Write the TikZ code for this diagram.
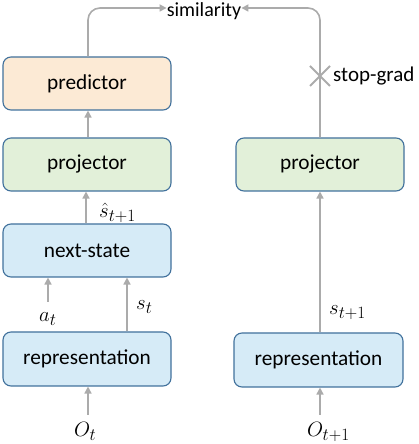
\documentclass[tikz,border=0pt]{standalone}
\usepackage{fontspec}
\setmainfont{Carlito}
\DeclareMathSizes{22}{22}{16}{12}
\usetikzlibrary{arrows.meta}
\definecolor{bordc}{HTML}{41719C}
\definecolor{orangef}{HTML}{FCEAD5}
\definecolor{greenf}{HTML}{E2F0D9}
\definecolor{bluef}{HTML}{D6EBF7}
\definecolor{arrc}{HTML}{ABABAB}
\tikzset{
  blk/.style={draw=bordc, line width=1.1pt, rounded corners=8pt, minimum width=168pt, minimum height=53pt, inner sep=0pt, font=\fontsize{21.3}{24}\selectfont},
  conn/.style={draw=arrc, line width=1.6pt, -{Triangle[length=7pt,width=7pt]}},
  lbl/.style={inner sep=0pt, font=\fontsize{21}{24}\selectfont},
  mlbl/.style={inner sep=0pt, anchor=base west, font=\fontsize{22}{24}\selectfont},
}
\begin{document}
\begin{tikzpicture}[x=1pt,y=1pt]
\useasboundingbox (0,0) rectangle (418,444);
\node[blk, fill=orangef] (pred) at (87,360.5) {predictor};
\node[blk, fill=greenf] (projL) at (87,279.5) {projector};
\node[blk, fill=bluef] (next) at (87,193.5) {next-state};
\node[blk, fill=bluef, minimum height=54pt] (repL) at (87,85) {representation};
\node[blk, fill=greenf] (projR) at (320,279.5) {projector};
\node[blk, fill=bluef, minimum height=54pt, minimum width=169pt] (repR) at (318.5,84) {representation};
\node[lbl, font=\fontsize{20}{22}\selectfont] (sim) at (204,433) {similarity};
\node[mlbl] (ot) at (74,7) {$O_t$};
\node[mlbl] (ot1) at (307,7) {$O_{t+1}$};
\node[mlbl] (at) at (39,122) {$a_t$};
\node[mlbl] (st) at (136,134) {$s_t$};
\node[mlbl] (sh) at (99,226) {$\hat{s}_{t+1}$};
\node[mlbl] (st1) at (329,129) {$s_{t+1}$};
\node[lbl, anchor=west] (sg) at (333,368) {stop-grad};
\coordinate (atS) at (48,142);
\coordinate (otS) at (88,29);
\coordinate (ot1S) at (320,29);
\coordinate (xc) at (320,368);
\draw[conn] (projL.north -| 88,0) -- (pred.south -| 88,0);
\draw[conn] (next.north -| 86,0) -- (projL.south -| 86,0);
\draw[conn] (repL.north -| 127,0) -- (next.south -| 127,0);
\draw[conn] (atS) -- (atS |- next.south);
\draw[conn] (otS) -- (otS |- repL.south);
\draw[conn] (ot1S) -- (ot1S |- repR.south);
\draw[conn] (repR.north -| 320,0) -- (projR.south -| 320,0);
\draw[conn, rounded corners=12pt] (pred.north -| 88,0) -- (88,436) -- (sim.west |- 0,436);
\draw[conn, rounded corners=12pt] (projR.north -| 320,0) -- (320,436) -- (sim.east |- 0,436);
\draw[arrc, line width=1.8pt] ([shift={(-10,-10)}]xc) -- ([shift={(10,10)}]xc);
\draw[arrc, line width=1.8pt] ([shift={(-10,10)}]xc) -- ([shift={(10,-10)}]xc);
\end{tikzpicture}
\end{document}
